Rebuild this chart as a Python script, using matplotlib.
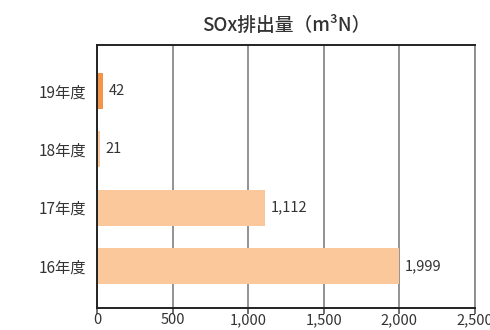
import numpy as np
import matplotlib.pyplot as plt

plt.rcParams['font.family'] = ['Noto Sans CJK JP', 'DejaVu Sans']

years = ["16年度", "17年度", "18年度", "19年度"]
values = [1999, 1112, 21, 42]
labels = ["1,999", "1,112", "21", "42"]
colors = ["#FAC89B", "#FAC89B", "#FAC89B", "#F39449"]
xticks = [0, 500, 1000, 1500, 2000, 2500]
xticklabels = ["0", "500", "1,000", "1,500", "2,000", "2,500"]

fig = plt.figure(figsize=(4.9, 3.3), dpi=100)
ax = fig.add_axes([0.198, 0.067, 0.771, 0.797])

y = np.arange(len(years))
ax.barh(y, values, height=0.62, color=colors, zorder=2)
for yi, v, lab in zip(y, values, labels):
    ax.text(v + 35, yi, lab, va="center", ha="left", fontsize=10.5, color="#333333")

ax.set_xlim(0, 2500)
ax.set_ylim(-0.72, 3.79)
ax.set_xticks(xticks)
ax.set_xticklabels(xticklabels, fontsize=10.5, color="#333333")
ax.set_yticks(y)
ax.set_yticklabels(years, fontsize=11, color="#333333")
ax.tick_params(axis="y", length=0, pad=8)
ax.tick_params(axis="x", length=4, width=1.2, color="#555555", pad=0)
ax.grid(axis="x", color="#8a8a8a", linewidth=1.3, zorder=1)

for s in ["left", "bottom", "top"]:
    ax.spines[s].set_color("#222222")
    ax.spines[s].set_linewidth(1.4)
ax.spines["right"].set_color("#8a8a8a")
ax.spines["right"].set_linewidth(1.3)

ax.set_title("SOx排出量（m³N）", fontsize=13.5, fontweight="medium", color="#333333", pad=10)

fig.savefig("out.png", dpi=100)
